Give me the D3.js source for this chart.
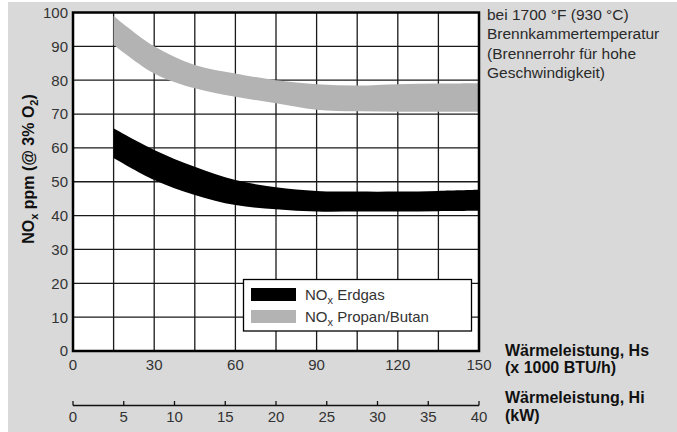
<!DOCTYPE html>
<html lang="de">
<head>
<meta charset="UTF-8"/>
<title>NOx Emissionen</title>
<script src="https://cdn.jsdelivr.net/npm/d3@7/dist/d3.min.js"></script>
<style>
  * { margin: 0; padding: 0; }
  body { background: #fff; width: 677px; height: 432px; overflow: hidden; }
  svg { display: block; font-family: "Liberation Sans", Arial, sans-serif; }
  .tick-label { font-size: 15px; fill: #333; }
  .bold-title { font-size: 16px; font-weight: 700; fill: #111; }
  .note { font-size: 15.5px; fill: #2a2a2a; }
</style>
</head>
<body>
<svg id="chart" width="677" height="432"></svg>
<script>
// --- data ---
const xValues     = [15, 30, 45, 60, 75, 90, 105, 120, 135, 150]   // x 1000 BTU/h
const erdgasLow   = [57, 50.5, 46.1, 43.1, 41.9, 41.2, 41.2, 41.2, 41.3, 41.4]
const erdgasHigh  = [65.8, 59.4, 54.4, 50.5, 48.4, 47.3, 47.1, 47.1, 47.3, 47.6]
const propanLow   = [90.5, 82, 77.6, 75.1, 73.2, 71.3, 70.8, 70.7, 70.7, 70.7]
const propanHigh  = [99, 90, 84.5, 82, 80, 78.8, 78.4, 78.8, 79, 79.1]

const btuTicks = [0, 30, 60, 90, 120, 150]
const kwTicks  = [0, 5, 10, 15, 20, 25, 30, 35, 40]
const yTicks   = [0, 10, 20, 30, 40, 50, 60, 70, 80, 90, 100]
const gridX    = [15, 30, 45, 60, 75, 90, 105, 120, 135]
const gridY    = [10, 20, 30, 40, 50, 60, 70, 80, 90]

const noteLines = ['bei 1700 °F (930 °C)', 'Brennkammertemperatur', '(Brennerrohr für hohe', 'Geschwindigkeit)']

const series = [
  { name: 'Erdgas',       low: erdgasLow, high: erdgasHigh, color: '#000' },
  { name: 'Propan/Butan', low: propanLow, high: propanHigh, color: '#b3b3b3' },
]

// --- layout ---
const svg = d3.select('#chart')

const x   = d3.scaleLinear().domain([0, 150]).range([73, 479])
const xKW = d3.scaleLinear().domain([0, 40]).range([73, 479])
const y   = d3.scaleLinear().domain([0, 100]).range([351, 12.5])

// grey panel
svg.append('rect').attr('x', 8).attr('y', 2).attr('width', 669).attr('height', 430).attr('fill', '#d9d9d9')

// plot background
svg.append('rect')
  .attr('x', x(0)).attr('y', y(100))
  .attr('width', x(150) - x(0)).attr('height', y(0) - y(100))
  .attr('fill', '#fff')

// grid
svg.append('g').selectAll('line').data(gridX).join('line')
  .attr('x1', d => x(d)).attr('x2', d => x(d))
  .attr('y1', y(0)).attr('y2', y(100))
  .attr('stroke', '#1a1a1a').attr('stroke-width', 1.3)
svg.append('g').selectAll('line').data(gridY).join('line')
  .attr('x1', x(0)).attr('x2', x(150))
  .attr('y1', d => y(d)).attr('y2', d => y(d))
  .attr('stroke', '#1a1a1a').attr('stroke-width', 1.3)

// bands
const area = d3.area()
  .x(d => x(d.x))
  .y0(d => y(d.low))
  .y1(d => y(d.high))
  .curve(d3.curveCatmullRom.alpha(0.5))

svg.append('g').selectAll('path').data(series).join('path')
  .attr('d', s => area(xValues.map((v, i) => ({ x: v, low: s.low[i], high: s.high[i] }))))
  .attr('fill', s => s.color)

// frame
svg.append('rect')
  .attr('x', x(0)).attr('y', y(100))
  .attr('width', x(150) - x(0)).attr('height', y(0) - y(100))
  .attr('fill', 'none').attr('stroke', '#000').attr('stroke-width', 2.5)

// y tick labels
svg.append('g').selectAll('text').data(yTicks).join('text')
  .attr('class', 'tick-label')
  .attr('x', 68).attr('y', d => y(d)).attr('dy', '0.36em')
  .attr('text-anchor', 'end')
  .text(d => d)

// x tick labels (BTU/h)
svg.append('g').selectAll('text').data(btuTicks).join('text')
  .attr('class', 'tick-label')
  .attr('x', d => x(d)).attr('y', 370)
  .attr('text-anchor', 'middle')
  .text(d => d)

// second axis (kW)
const kwAxis = svg.append('g')
kwAxis.append('line')
  .attr('x1', xKW(0)).attr('x2', xKW(40)).attr('y1', 405.5).attr('y2', 405.5)
  .attr('stroke', '#111').attr('stroke-width', 1.3)
kwAxis.selectAll('line.t').data(kwTicks).join('line')
  .attr('class', 't')
  .attr('x1', d => xKW(d)).attr('x2', d => xKW(d))
  .attr('y1', 405.5).attr('y2', 401)
  .attr('stroke', '#111').attr('stroke-width', 1.3)
kwAxis.selectAll('text').data(kwTicks).join('text')
  .attr('class', 'tick-label')
  .attr('x', d => xKW(d)).attr('y', 422)
  .attr('text-anchor', 'middle')
  .text(d => d)

// axis titles
const titles = [
  { text: 'Wärmeleistung, Hs', y: 355.5 },
  { text: '(x 1000 BTU/h)',    y: 373 },
  { text: 'Wärmeleistung, Hi', y: 402.5 },
  { text: '(kW)',              y: 420.5 },
]
svg.append('g').selectAll('text').data(titles).join('text')
  .attr('class', 'bold-title')
  .attr('x', 505).attr('y', d => d.y)
  .text(d => d.text)

// y title with subscripts
const yt = svg.append('text')
  .attr('class', 'bold-title')
  .attr('transform', 'translate(34,169) rotate(-90)')
  .attr('text-anchor', 'middle')
yt.append('tspan').text('NO')
yt.append('tspan').attr('font-size', 11).attr('dy', 4).text('x')
yt.append('tspan').attr('dy', -4).text(' ppm (@ 3% O')
yt.append('tspan').attr('font-size', 11).attr('dy', 4).text('2')
yt.append('tspan').attr('dy', -4).text(')')

// note top right
svg.append('g').selectAll('text').data(noteLines).join('text')
  .attr('class', 'note')
  .attr('x', 487).attr('y', (d, i) => 20 + i * 19.4)
  .text(d => d)

// legend
const legend = svg.append('g')
legend.append('rect')
  .attr('x', 243.5).attr('y', 279.5).attr('width', 228).attr('height', 51.5)
  .attr('fill', '#fff').attr('stroke', '#000').attr('stroke-width', 1.3)
const items = legend.selectAll('g').data(series).join('g')
  .attr('transform', (d, i) => `translate(0,${i * 22})`)
items.append('rect')
  .attr('x', 251).attr('y', 288).attr('width', 45).attr('height', 13)
  .attr('fill', d => d.color)
const lt = items.append('text')
  .attr('class', 'tick-label')
  .attr('x', 305).attr('y', 300)
lt.append('tspan').text('NO')
lt.append('tspan').attr('font-size', 11).attr('dy', 4).text('x')
lt.append('tspan').attr('dy', -4).text(d => ' ' + d.name)
</script>
</body>
</html>
